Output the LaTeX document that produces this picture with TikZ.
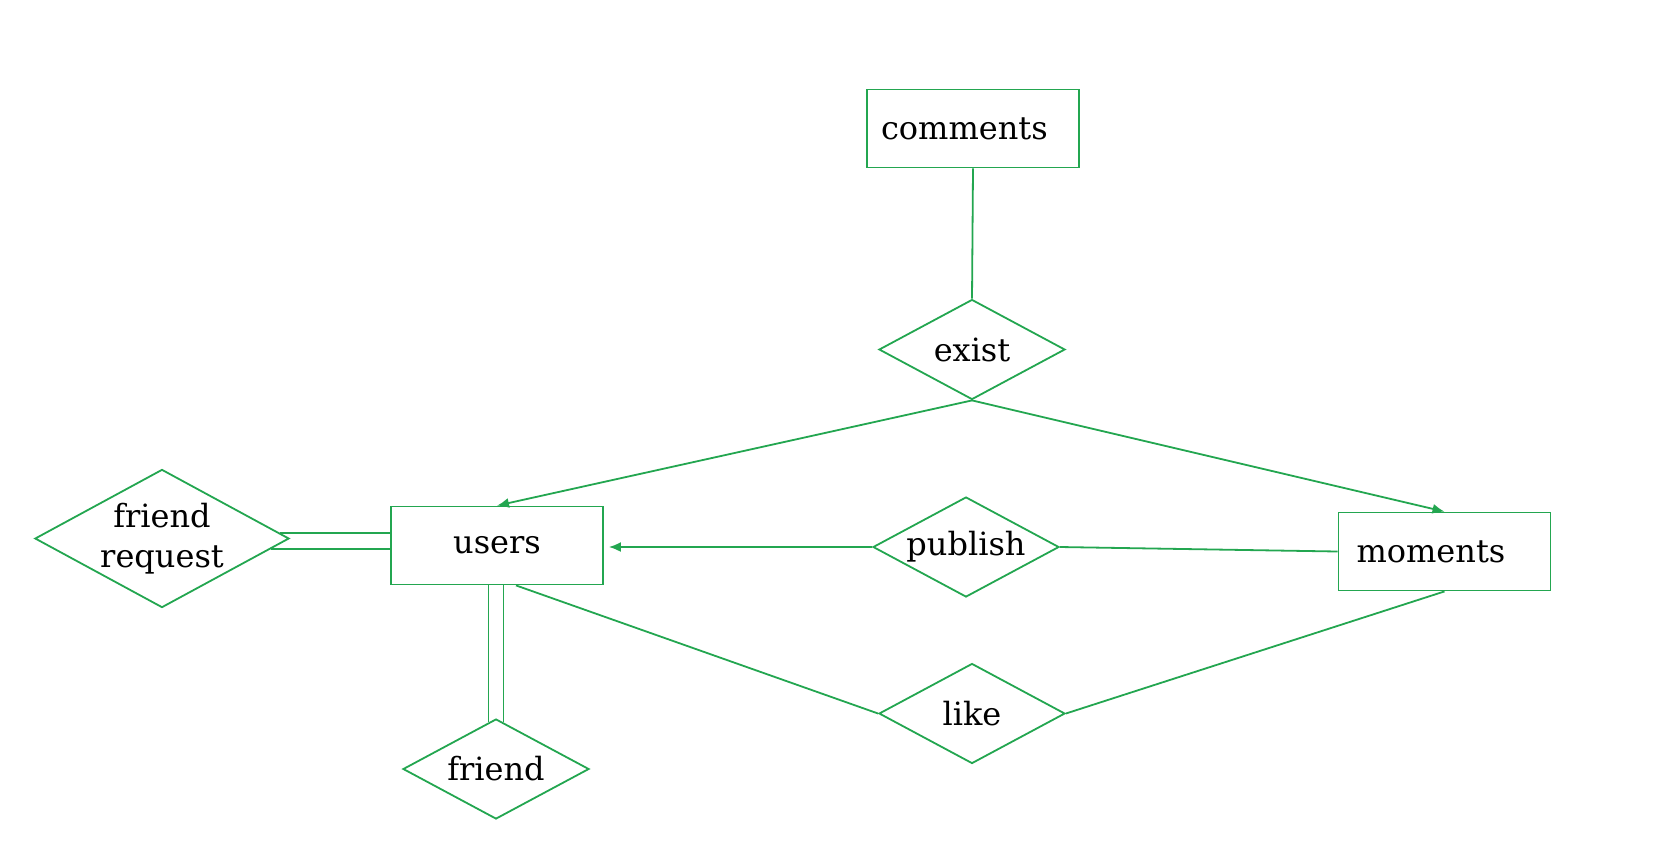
\documentclass[tikz,border=0pt]{standalone}
\usepackage{fontspec}
\setmainfont{DejaVu Serif}
\usepackage{xcolor}
\usetikzlibrary{arrows.meta,calc,shapes.geometric}
\definecolor{ergreen}{RGB}{35,166,80}

\begin{document}
\begin{tikzpicture}[x=0.5pt,y=-0.5pt,font=\fontsize{16}{20}\selectfont,
  >={Latex[length=6pt,width=5pt]},line width=0.9pt,
  entity/.style={draw=ergreen,rectangle,minimum width=106pt,minimum height=39pt,inner xsep=7pt},
  relation/.style={draw=ergreen,diamond,aspect=1.86,minimum width=93pt,minimum height=50pt,inner sep=0pt,align=center}]
  \useasboundingbox (0,0) rectangle (1658,858);
  \node[entity,text width=92pt,align=left] (comments) at (973,128.5) {comments};
  \node[entity,text width=92pt,align=center] (users) at (497,545.5) {users};
  \node[entity,text width=92pt,align=left] (moments) at (1444.5,551.5) {\hspace*{2pt}moments};
  \node[relation] (exist) at (972,349.5) {exist};
  \node[relation] (publish) at (966,547) {publish};
  \node[relation] (like) at (972,713.5) {like};
  \node[relation] (friend) at (496,769) {friend};
  \node[relation,minimum width=126pt,minimum height=68.5pt,aspect=1.84] (freq) at (162,538.5) {friend\\request};
  \draw[ergreen] (comments.south) -- (exist.north);
  \draw[ergreen,->] (exist.south) -- (users.north);
  \draw[ergreen,->] (exist.south) -- (moments.north);
  \draw[ergreen,->,shorten >=2.5pt] (publish.west) -- (publish.west -| users.east);
  \draw[ergreen] (publish.east) -- (moments.west);
  \draw[ergreen] ([xshift=9.5pt]users.south) -- (like.west);
  \draw[ergreen] (like.east) -- (moments.south);
  % double lines
  \coordinate (fr1) at ($(freq.east)!0.08!(freq.north)$);
  \coordinate (fr2) at ($(freq.east)!0.15!(freq.south)$);
  \draw[ergreen] (fr1) -- (fr1 -| users.west);
  \draw[ergreen] (fr2) -- (fr2 -| users.west);
  \coordinate (fd1) at ($(friend.north)!0.08!(friend.west)$);
  \coordinate (fd2) at ($(friend.north)!0.08!(friend.east)$);
  \draw[ergreen] (fd1) -- (fd1 |- users.south);
  \draw[ergreen] (fd2) -- (fd2 |- users.south);
\end{tikzpicture}
\end{document}
